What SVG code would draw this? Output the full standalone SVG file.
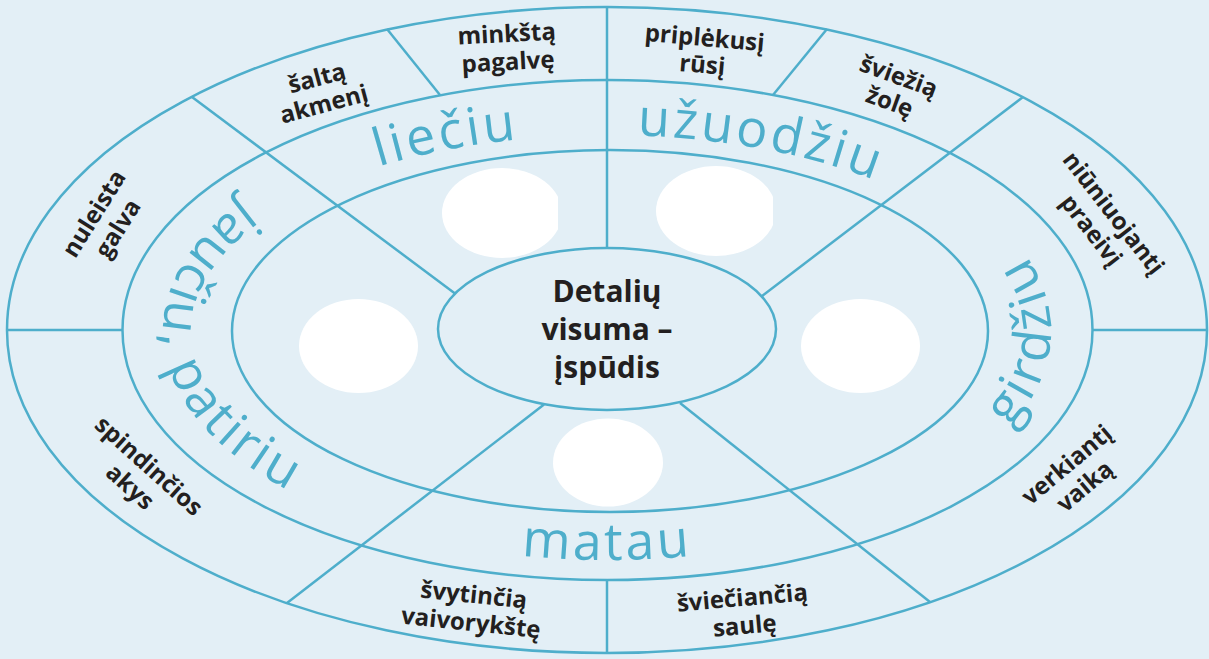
<svg xmlns="http://www.w3.org/2000/svg" width="1209" height="659" viewBox="0 0 1209 659">
<style>
.ring{fill:none;stroke:#4eaecb;stroke-width:2.5}
.conn line{stroke:#4eaecb;stroke-width:2.5}
.lbl{font-family:"Open Sans","Liberation Sans",sans-serif;font-weight:700;font-size:24px;fill:#231f20;text-anchor:middle}
.ctr{font-family:"Open Sans","Liberation Sans",sans-serif;font-weight:700;font-size:30px;fill:#231f20;text-anchor:middle}
.sense{font-family:"Open Sans","Liberation Sans",sans-serif;font-weight:370;font-size:52px;fill:#4eaecb;letter-spacing:3px}
.blank{fill:#ffffff}
</style>
<defs>
<path id="p-lieciu" d="M297.3,198.6 A420,196 0 0 1 607,135"/>
<path id="p-uzuodziu" d="M534.1,138 A420,196 0 0 1 967,230.1"/>
<path id="p-matau" d="M385,529.3 A444,229 0 0 0 829,529.3"/>
<path id="p-girdziu" d="M982.5,453.2 A444,229 0 0 0 999.9,224.4"/>
<path id="p-jauciu" d="M321.6,155.6 A444,229 0 0 0 385,529.3"/>
<clipPath id="clipL"><rect x="430" y="160" width="128" height="110"/></clipPath>
<clipPath id="clipR"><rect x="645" y="158" width="128" height="110"/></clipPath>
</defs>
<rect x="0" y="0" width="1209" height="659" fill="#e3eff6"/>
<g id="rings">
<ellipse class="ring" cx="607" cy="330" rx="600" ry="323"/>
<ellipse class="ring" cx="607.5" cy="330" rx="485" ry="250"/>
<ellipse class="ring" cx="610" cy="331" rx="378" ry="181"/>
</g>
<g id="connectors" class="conn">
<line x1="607" y1="7" x2="607" y2="248"/>
<line x1="192" y1="97" x2="455" y2="293.5"/>
<line x1="1023" y1="97" x2="762" y2="296"/>
<line x1="544" y1="404.5" x2="287" y2="603"/>
<line x1="680" y1="403" x2="930" y2="602"/>
<line x1="387" y1="29" x2="440" y2="95"/>
<line x1="827" y1="29" x2="773" y2="95"/>
<line x1="7" y1="330" x2="122.5" y2="330"/>
<line x1="1092" y1="330" x2="1207" y2="330"/>
<line x1="607" y1="580" x2="607" y2="653"/>
</g>
<g id="center">
<ellipse class="ring" cx="607" cy="329" rx="169" ry="81"/>
<text class="ctr"><tspan x="607" y="302">Detalių</tspan><tspan x="607" y="340">visuma –</tspan><tspan x="607" y="378">įspūdis</tspan></text>
</g>
<g id="blanks">
<ellipse id="blank-top-left" class="blank" cx="502" cy="213" rx="60" ry="45" clip-path="url(#clipL)"/>
<ellipse id="blank-top-right" class="blank" cx="716" cy="211" rx="60" ry="45" clip-path="url(#clipR)"/>
<ellipse id="blank-left" class="blank" cx="358.5" cy="346" rx="59.5" ry="47"/>
<ellipse id="blank-right" class="blank" cx="860.5" cy="346" rx="59.5" ry="47"/>
<ellipse id="blank-bottom" class="blank" cx="608" cy="462.5" rx="55" ry="44"/>
</g>
<g id="senses">
<text id="sense-lieciu" class="sense"><textPath href="#p-lieciu" startOffset="50%" text-anchor="middle">liečiu</textPath></text>
<text id="sense-uzuodziu" class="sense"><textPath href="#p-uzuodziu" startOffset="50%" text-anchor="middle">užuodžiu</textPath></text>
<text id="sense-matau" class="sense"><textPath href="#p-matau" startOffset="50%" text-anchor="middle">matau</textPath></text>
<text id="sense-girdziu" class="sense" style="letter-spacing:4px"><textPath href="#p-girdziu" startOffset="50%" text-anchor="middle">girdžiu</textPath></text>
<text id="sense-jauciu" class="sense" style="letter-spacing:3px"><textPath href="#p-jauciu" startOffset="49%" text-anchor="middle">jaučiu, patiriu</textPath></text>
</g>
<g id="label-saltq"><text class="lbl" transform="translate(319 86) rotate(-15)"><tspan x="0" y="0">šaltą</tspan><tspan x="0" y="27">akmenį</tspan></text></g>
<g id="label-minkstq"><text class="lbl" transform="translate(507 42) rotate(-3)"><tspan x="0" y="0">minkštą</tspan><tspan x="0" y="28">pagalvę</tspan></text></g>
<g id="label-priplekusi"><text class="lbl" transform="translate(704 46) rotate(5)"><tspan x="0" y="0">priplėkusį</tspan><tspan x="0" y="27">rūsį</tspan></text></g>
<g id="label-svieziq"><text class="lbl" transform="translate(896 84) rotate(20)"><tspan x="0" y="0">šviežią</tspan><tspan x="0" y="27">žolę</tspan></text></g>
<g id="label-niuniuojanti"><text class="lbl" transform="translate(1107 218) rotate(52)"><tspan x="0" y="0">niūniuojantį</tspan><tspan x="0" y="28">praeivį</tspan></text></g>
<g id="label-verkianti"><text class="lbl" transform="translate(1072 471) rotate(-40)"><tspan x="0" y="0">verkiantį</tspan><tspan x="0" y="28">vaiką</tspan></text></g>
<g id="label-svieciancia"><text class="lbl" transform="translate(743 606) rotate(-5)"><tspan x="0" y="0">šviečiančią</tspan><tspan x="0" y="28">saulę</tspan></text></g>
<g id="label-svytincia"><text class="lbl" transform="translate(473 603) rotate(6)"><tspan x="0" y="0">švytinčią</tspan><tspan x="0" y="28">vaivorykštę</tspan></text></g>
<g id="label-spindincios"><text class="lbl" transform="translate(143.5 472) rotate(42)"><tspan x="0" y="0">spindinčios</tspan><tspan x="0" y="28">akys</tspan></text></g>
<g id="label-nuleista"><text class="lbl" transform="translate(101 218) rotate(-58)"><tspan x="0" y="0">nuleista</tspan><tspan x="0" y="28">galva</tspan></text></g>
</svg>
